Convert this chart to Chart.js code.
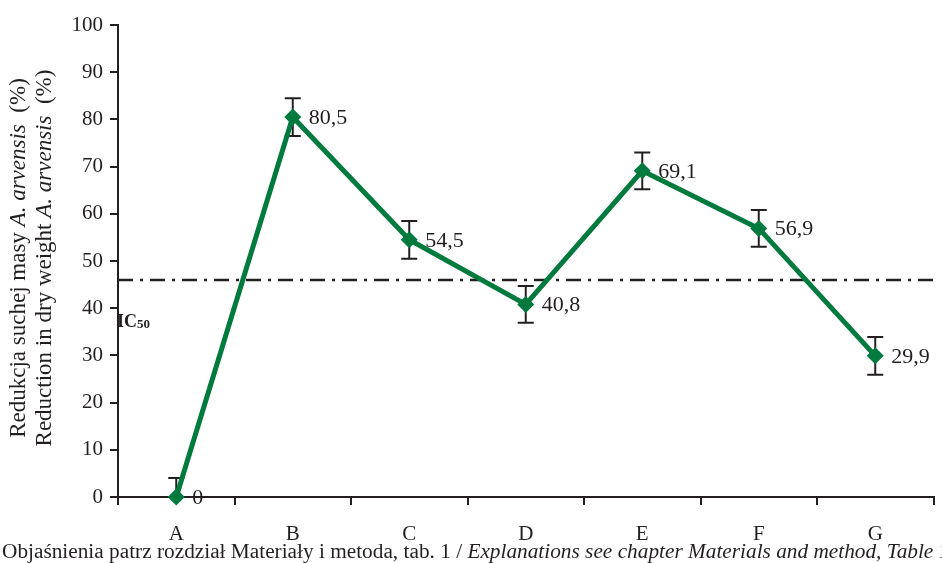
<!DOCTYPE html>
<html>
<head>
<meta charset="utf-8">
<script src="https://cdn.jsdelivr.net/npm/chart.js@4/dist/chart.umd.min.js"></script>
<style>
body { margin: 0; background: #fff; }
#wrap { width: 942px; height: 563px; }
</style>
</head>
<body>
<div id="wrap"><canvas id="chart1" width="942" height="563"></canvas></div>
<script>
var categories = ['A', 'B', 'C', 'D', 'E', 'F', 'G'];
var reduction = [0, 80.5, 54.5, 40.8, 69.1, 56.9, 29.9];
var errors = [4, 4, 4, 3.9, 3.9, 3.9, 4];
var valueLabels = ['0', '80,5', '54,5', '40,8', '69,1', '56,9', '29,9'];
var yTicks = [0, 10, 20, 30, 40, 50, 60, 70, 80, 90, 100];
var ic50 = 46;
var ic50LabelAt = 36;

var ink = '#231f20';
var green = '#007a3d';
var serif = '"Liberation Serif", "DejaVu Serif", serif';

// draws error bars, IC50 line, value labels and the axis titles
var extras = {
    id: 'extras',
    beforeDatasetsDraw(chart) {
        const ctx = chart.ctx;
        const x = chart.scales.x;
        const y = chart.scales.y;
        const area = chart.chartArea;

        // IC50 dash-dot line
        ctx.save();
        ctx.strokeStyle = ink;
        ctx.lineWidth = 2.5;
        ctx.setLineDash([15, 7, 3, 7]);
        ctx.beginPath();
        ctx.moveTo(area.left, y.getPixelForValue(ic50));
        ctx.lineTo(area.right, y.getPixelForValue(ic50));
        ctx.stroke();
        ctx.restore();

        // error bars
        ctx.save();
        ctx.beginPath();
        ctx.rect(area.left, area.top - 5, area.right - area.left, area.bottom - area.top + 5);
        ctx.clip();
        ctx.strokeStyle = ink;
        ctx.lineWidth = 2;
        reduction.forEach((v, i) => {
            const px = x.getPixelForValue(i);
            const top = y.getPixelForValue(v + errors[i]);
            const bot = y.getPixelForValue(v - errors[i]);
            ctx.beginPath();
            ctx.moveTo(px, top); ctx.lineTo(px, bot);
            ctx.moveTo(px - 8, top); ctx.lineTo(px + 8, top);
            ctx.moveTo(px - 8, bot); ctx.lineTo(px + 8, bot);
            ctx.stroke();
        });
        ctx.restore();
    },
    afterDatasetsDraw(chart) {
        const ctx = chart.ctx;
        const x = chart.scales.x;
        const y = chart.scales.y;
        const area = chart.chartArea;

        ctx.save();
        ctx.fillStyle = ink;
        ctx.font = '22px ' + serif;
        ctx.textBaseline = 'middle';
        ctx.textAlign = 'left';
        reduction.forEach((v, i) => {
            ctx.fillText(valueLabels[i], x.getPixelForValue(i) + 16, y.getPixelForValue(v) + 1);
        });

        // IC50 label
        ctx.textBaseline = 'alphabetic';
        ctx.font = 'bold 18px ' + serif;
        const icY = y.getPixelForValue(ic50LabelAt);
        ctx.fillText('IC', area.left - 1, icY);
        const w = ctx.measureText('IC').width;
        ctx.font = 'bold 13px ' + serif;
        ctx.fillText('50', area.left - 1 + w, icY + 1);
        ctx.restore();

        // y axis title, two lines, rotated
        const lines = [
            [['Redukcja suchej masy ', false], ['A. arvensis', true], ['  (%)', false]],
            [['Reduction in dry weight ', false], ['A. arvensis', true], ['  (%)', false]]
        ];
        const cy = (area.top + area.bottom) / 2 - 3;
        const xs = [19, 45];
        ctx.save();
        ctx.fillStyle = ink;
        ctx.textBaseline = 'middle';
        lines.forEach((parts, li) => {
            let total = 0;
            parts.forEach(p => {
                ctx.font = (p[1] ? 'italic ' : '') + '23px ' + serif;
                total += ctx.measureText(p[0]).width;
            });
            ctx.save();
            ctx.translate(xs[li], cy);
            ctx.rotate(-Math.PI / 2);
            let pos = -total / 2;
            parts.forEach(p => {
                ctx.font = (p[1] ? 'italic ' : '') + '23px ' + serif;
                ctx.fillText(p[0], pos, 0);
                pos += ctx.measureText(p[0]).width;
            });
            ctx.restore();
        });

        // x axis note
        const note = [['Objaśnienia patrz rozdział Materiały i metoda, tab. 1 / ', false],
                      ['Explanations see chapter Materials and method, Table 1', true]];
        ctx.textBaseline = 'alphabetic';
        let nx = 2;
        note.forEach(p => {
            ctx.font = (p[1] ? 'italic ' : '') + '21.3px ' + serif;
            ctx.fillText(p[0], nx, 558);
            nx += ctx.measureText(p[0]).width;
        });
        ctx.restore();
    }
};

var chartEl = document.getElementById('chart1');

new Chart(chartEl, {
    type: 'line',
    data: {
        labels: categories,
        datasets: [{
            label: 'Redukcja',
            data: reduction,
            borderColor: green,
            backgroundColor: green,
            borderWidth: 5,
            pointStyle: 'rectRot',
            pointRadius: 8.5,
            pointBorderWidth: 0,
            pointBackgroundColor: green,
            tension: 0,
            clip: false
        }]
    },
    options: {
        responsive: false,
        animation: false,
        layout: { padding: { left: 0, top: 25, right: 4, bottom: 0 } },
        plugins: {
            legend: { display: false },
            tooltip: { enabled: false }
        },
        scales: {
            x: {
                type: 'category',
                offset: true,
                grid: {
                    offset: true,
                    drawOnChartArea: false,
                    drawTicks: true,
                    tickLength: 8,
                    color: ink,
                    lineWidth: 2
                },
                border: { display: true, color: ink, width: 2 },
                ticks: {
                    color: ink,
                    font: { family: serif, size: 21 },
                    padding: 17,
                    maxRotation: 0
                },
                afterFit: (scale) => { scale.height = 66; }
            },
            y: {
                min: 0,
                max: 100,
                afterBuildTicks: (scale) => { scale.ticks = yTicks.map(v => ({ value: v })); },
                grid: {
                    drawOnChartArea: false,
                    drawTicks: true,
                    tickLength: 8,
                    color: ink,
                    lineWidth: 2
                },
                border: { display: true, color: ink, width: 2 },
                ticks: {
                    color: ink,
                    font: { family: serif, size: 21 },
                    padding: 7
                },
                afterFit: (scale) => { scale.width = 118; }
            }
        }
    },
    plugins: [extras]
});
</script>
</body>
</html>
